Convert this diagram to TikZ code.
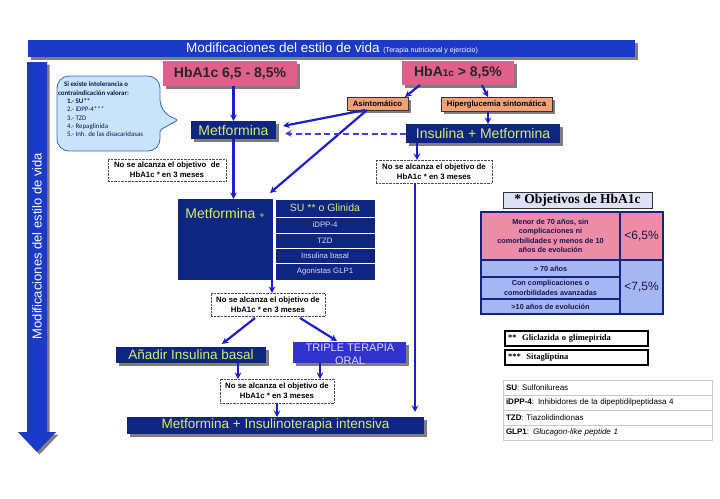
\documentclass[tikz,border=0pt]{standalone}
\usepackage{fontspec}
\setmainfont{Liberation Sans}
\newfontfamily\calfont{Carlito}
\newfontfamily\serfont{Liberation Serif}
\usetikzlibrary{arrows.meta,shadows}
\definecolor{banner}{RGB}{28,58,200}
\definecolor{navy}{RGB}{14,38,130}
\definecolor{lime}{RGB}{212,236,112}
\definecolor{hpink}{RGB}{224,96,140}
\definecolor{tpink}{RGB}{236,140,166}
\definecolor{tblue}{RGB}{166,182,242}
\definecolor{salmon}{RGB}{246,160,120}
\definecolor{callfill}{RGB}{200,228,250}
\definecolor{callline}{RGB}{60,100,190}
\definecolor{arrblue}{RGB}{30,30,200}
\definecolor{tripfill}{RGB}{50,50,205}
\definecolor{objfill}{RGB}{222,224,246}
\definecolor{txtnavy}{RGB}{22,22,80}
\definecolor{gridgray}{RGB}{200,200,212}
\tikzset{
 shd/.style={drop shadow={shadow xshift=2.5pt,shadow yshift=-2.5pt,fill=black,opacity=0.5}},
 box/.style={anchor=north west,inner sep=0pt,outer sep=0pt},
 navybox/.style={box,fill=navy,text=lime,shd,font=\fontsize{14}{16}\selectfont},
 pinkbox/.style={box,fill=hpink,text=black!85,shd,font=\bfseries\fontsize{14}{16}\selectfont},
 salbox/.style={box,fill=salmon,draw=black!80,line width=0.6pt,shd,font=\bfseries\fontsize{7.8}{9}\selectfont},
 nobox/.style={box,draw=black!70,densely dotted,fill=white,align=center,font=\bfseries\fontsize{7.8}{10}\selectfont},
 cellbox/.style={box,fill=navy,draw=white,line width=1pt,text=white!85!blue,minimum width=100pt,font=\fontsize{7.8}{9}\selectfont},
 arr/.style={draw=arrblue,line width=2.2pt,-{Stealth[length=6.5pt,width=6.5pt]}},
 dasharr/.style={draw=arrblue!85,line width=2pt,dash pattern=on 6pt off 3.5pt,-{Stealth[length=6.5pt,width=6.5pt]}},
 tabcell/.style={box,draw=navy,line width=1.2pt,align=center,text=txtnavy,font=\bfseries\fontsize{7.3}{9.5}\selectfont},
 footbox/.style={box,draw=black,line width=1.5pt,text width=137pt,inner xsep=3pt,minimum height=15pt,align=left,font=\serfont\bfseries\fontsize{8.5}{10}\selectfont},
 abbrow/.style={box,draw=gridgray,line width=0.6pt,text width=203pt,inner xsep=3pt,minimum height=15pt,align=left,font=\fontsize{8}{9}\selectfont},
}
\begin{document}
\begin{tikzpicture}[x=1pt,y=-1pt]
\useasboundingbox[fill=white] (0,0) rectangle (720,498);
% banner
\node[box,fill=banner,shd,minimum width=607pt,minimum height=17pt] (banner) at (28,40) {};
\node[text=white,font=\fontsize{13.5}{15}\selectfont] (bannertxt) at (332,48.5) {Modificaciones del estilo de vida {\fontsize{7}{8}\selectfont (Terapia nutricional y ejercicio)}};
% left vertical arrow
\path[shd,left color=banner,middle color=banner!80!white,right color=banner] (27,62) -- (47,62) -- (47,432) -- (56,432) -- (37,452) -- (18,432) -- (27,432) -- cycle;
\node[rotate=90,text=white,font=\fontsize{13}{15}\selectfont] (vtext) at (37,246) {Modificaciones del estilo de vida};
% callout
\draw[fill=callfill,draw=callline,line width=0.8pt] (160,112) [rounded corners=2pt] -- (178,120) -- (160,130) [rounded corners=12pt] -- (160,151) -- (57,151) -- (57,76) -- (160,76) -- cycle;
\node[box,align=left,text=txtnavy,font=\calfont\fontsize{6.9}{8.3}\selectfont] (calltxt) at (58,82) {\hspace*{6pt}\textbf{Si existe intolerancia o}\\ \textbf{contraindicación valorar:}\\ \hspace*{9pt}\textbf{1.- SU**}\\ \hspace*{9pt}2.- iDPP-4***\\ \hspace*{9pt}3.- TZD\\ \hspace*{9pt}4.- Repaglinida\\ \hspace*{9pt}5.- Inh. de las disacaridasas};
% top pink boxes
\node[pinkbox,minimum width=134pt,minimum height=25pt] (hb1) at (163,61) {HbA1c 6,5 - 8,5\%};
\node[pinkbox,minimum width=112pt,minimum height=24pt] (hb2) at (402,61) {HbA{\fontsize{10}{10}\selectfont 1c} > 8,5\%};
% salmon boxes
\node[salbox,minimum width=61pt,minimum height=13pt] (asin) at (347,97) {Asintomático};
\node[salbox,minimum width=111pt,minimum height=14pt] (hiper) at (441,97) {Hiperglucemia sintomática};
% navy boxes
\node[navybox,minimum width=85pt,minimum height=18pt] (met) at (191,121) {Metformina};
\node[navybox,minimum width=154pt,minimum height=19pt] (insmet) at (406,124) {Insulina + Metformina};
% no se alcanza boxes
\node[nobox,minimum width=118pt,minimum height=22pt] (no1) at (108,159) {No se alcanza el objetivo\ \ de\\ HbA1c * en 3 meses};
\node[nobox,minimum width=116pt,minimum height=23pt] (no2) at (376,160) {No se alcanza el objetivo de\\ HbA1c * en 3 meses};
% Metformina + block
\node[box,fill=navy,minimum width=95pt,minimum height=81pt] (metplus) at (178,199) {};
\node[text=lime,font=\fontsize{14}{16}\selectfont] (metplustxt) at (225,213) {Metformina {\fontsize{9}{10}\selectfont +}};
\node[cellbox,minimum height=18pt,text=lime,font=\fontsize{10.5}{12}\selectfont] (c1) at (275,199) {SU ** o Glinida};
\node[cellbox,minimum height=16pt] (c2) at (275,217) {iDPP-4};
\node[cellbox,minimum height=15pt] (c3) at (275,233) {TZD};
\node[cellbox,minimum height=15pt] (c4) at (275,248) {Insulina basal};
\node[cellbox,minimum height=17pt] (c5) at (275,263) {Agonistas GLP1};
% lower
\node[nobox,minimum width=114pt,minimum height=23pt] (no3) at (211,293) {No se alcanza el objetivo de\\ HbA1c * en 3 meses};
\node[navybox,minimum width=150pt,minimum height=16pt,font=\fontsize{13.5}{15}\selectfont] (anadir) at (116,347) {Añadir Insulina basal};
\node[box,fill=tripfill,shd,minimum width=113pt,minimum height=21pt] (triple) at (293,342) {};
\node[align=center,text=white!85!blue,font=\fontsize{11}{13}\selectfont] (tripletxt) at (350,354) {TRIPLE TERAPIA\\ ORAL};
\node[nobox,minimum width=114pt,minimum height=24pt] (no4) at (220,379) {No se alcanza el objetivo de\\ HbA1c * en 3 meses};
\node[navybox,minimum width=297pt,minimum height=17pt,font=\fontsize{13.5}{15}\selectfont] (intens) at (127,417) {Metformina + Insulinoterapia intensiva};
% arrows
\draw[arr] (hb1.south -| met.north) -- (met.north);
\draw[arr] (met.south) -- (met.south |- metplus.north);
\draw[arr] ([xshift=18pt]hb2.south west) -- ([xshift=-3pt]asin.north east);
\draw[arr] ([xshift=-32pt]hb2.south east) -- ([xshift=47pt]hiper.north west);
\draw[arr] ([xshift=18pt]asin.south west) -- ([xshift=7pt,yshift=4pt]met.east);
\draw[arr] ([xshift=20pt]asin.south west) -- ([xshift=-3pt,yshift=6pt]metplus.north east);
\draw[arr] ([xshift=47pt]hiper.south west) -- ([xshift=47pt]hiper.south west |- insmet.north);
\draw[dasharr] (insmet.west) -- ([xshift=9pt]insmet.west -| met.east);
\draw[arr] ([xshift=11pt]insmet.south west) -- ([xshift=11pt]insmet.south west |- no2.north);
\draw[arr] ([xshift=39pt]no2.south west) -- ([xshift=39pt,yshift=5pt]no2.south west |- intens.north);
\draw[arr] ([xshift=-1pt]metplus.south east) -- ([xshift=-1pt]metplus.south east |- no3.north);
\draw[arr] ([xshift=44pt,yshift=-2pt]no3.south west) -- ([xshift=106pt,yshift=3pt]anadir.north west);
\draw[arr] ([xshift=89pt,yshift=-2pt]no3.south west) -- ([xshift=44pt,yshift=1pt]triple.north west);
\draw[arr] ([xshift=122pt]anadir.south west) -- ([xshift=122pt]anadir.south west |- no4.north);
\draw[arr] ([xshift=27pt]triple.south west) -- ([xshift=27pt]triple.south west |- no4.north);
\draw[arr] ([xshift=57pt]no4.south west) -- ([xshift=57pt]no4.south west |- intens.north);
% objetivos
\node[box,fill=objfill,draw=black!80,line width=0.8pt,minimum width=149pt,minimum height=16pt,font=\serfont\bfseries\fontsize{13.5}{15}\selectfont] (objt) at (503,192) {* Objetivos de HbA1c};
\node[tabcell,fill=tpink,minimum width=139pt,minimum height=48pt] (p1) at (481,212) {Menor de 70 años, sin\\ complicaciones ni\\ comorbilidades y menos de 10\\ años de evolución};
\node[tabcell,fill=tpink,minimum width=43pt,minimum height=48pt,font=\fontsize{12}{14}\selectfont] (p2) at (620,212) {<6,5\%};
\node[tabcell,fill=tblue,minimum width=139pt,minimum height=17pt] (b1) at (481,260) {> 70 años};
\node[tabcell,fill=tblue,minimum width=139pt,minimum height=22pt] (b2) at (481,277) {Con complicaciones o\\ comorbilidades avanzadas};
\node[tabcell,fill=tblue,minimum width=139pt,minimum height=15pt] (b3) at (481,299) {>10 años de evolución};
\node[tabcell,fill=tblue,minimum width=43pt,minimum height=54pt,font=\fontsize{12}{14}\selectfont] (b4) at (620,260) {<7,5\%};
% footnotes
\node[footbox] (f1) at (505,331) {**\ \ Gliclazida o glimepirida};
\node[footbox] (f2) at (505,350) {***\ \ Sitagliptina};
% abbreviations
\node[abbrow] (a1) at (503,380) {\textbf{SU}: Sulfonilureas};
\node[abbrow] (a2) at (503,395) {\textbf{iDPP-4}: Inhibidores de la dipeptidilpeptidasa 4};
\node[abbrow] (a3) at (503,410) {\textbf{TZD}: Tiazolidindionas};
\node[abbrow] (a4) at (503,425) {\textbf{GLP1}: \textit{Glucagon-like peptide 1}};
\end{tikzpicture}
\end{document}
